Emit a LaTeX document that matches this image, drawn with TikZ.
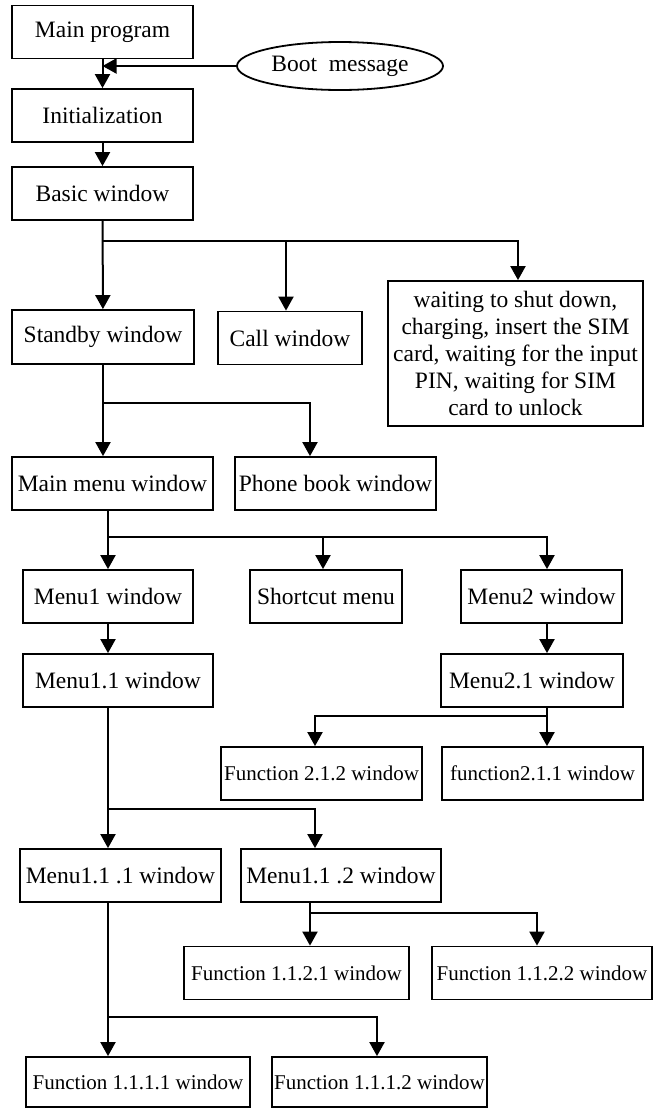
\documentclass[tikz,border=0pt]{standalone}
\usepackage{fontspec}
\setmainfont{Liberation Serif}
\usepackage{tikz}
\usetikzlibrary{calc,arrows.meta,shapes.geometric}

\begin{document}
\begin{tikzpicture}[x=0.5pt,y=-0.5pt,
		box/.style={draw,line width=0.9pt,inner sep=0pt,minimum height=26.5pt,font=\fontsize{11.75}{13.5}\selectfont},
		fbox/.style={box,font=\fontsize{10.5}{12}\selectfont},
		arr/.style={line width=1pt,-{Triangle[width=7.5pt,length=7pt]}},
		bus/.style={line width=1pt}]
			\useasboundingbox (0,0) rectangle (655,1109);
			\node[box,minimum width=90.5pt] (main) at (102.5,32) {Main program};
			\node[draw,ellipse,line width=0.9pt,inner sep=0pt,minimum width=103pt,minimum height=24pt,font=\fontsize{11.75}{13.5}\selectfont] (boot) at (340,66) {Boot~~message};
			\node[box,minimum width=90.5pt] (init) at (102.5,115.5) {Initialization};
			\node[box,minimum width=90.5pt] (basic) at (102.5,193.5) {Basic window};
			\node[box,minimum width=91pt,minimum height=27pt] (standby) at (103,337) {Standby window};
			\node[box,minimum width=72pt] (call) at (290,338) {Call window};
			\node[box,minimum width=127.5pt,minimum height=72.5pt,align=center] (wait) at (515.5,353.5) {waiting to shut down,\\charging, insert the SIM\\card, waiting for the input\\PIN, waiting for SIM\\card to unlock};
			\node[box,minimum width=100.5pt] (mainmenu) at (112.5,483.5) {Main menu window};
			\node[box,minimum width=100.5pt] (pbook) at (335.5,483.5) {Phone book window};
			\node[box,minimum width=85pt] (menu1) at (108,596.5) {Menu1 window};
			\node[box,minimum width=76pt] (shortcut) at (326,596.5) {Shortcut menu};
			\node[box,minimum width=80.5pt] (menu2) at (541.5,596.5) {Menu2 window};
			\node[box,minimum width=95pt] (menu11) at (118,680.5) {Menu1.1 window};
			\node[box,minimum width=91pt] (menu21) at (532,680.5) {Menu2.1 window};
			\node[fbox,minimum width=100.5pt] (f212) at (321.5,773.5) {Function 2.1.2 window};
			\node[fbox,minimum width=100.5pt] (f211) at (542.5,773.5) {function2.1.1 window};
			\node[box,minimum width=100.5pt] (menu111) at (120.5,875.5) {Menu1.1 .1 window};
			\node[box,minimum width=100pt] (menu112) at (341,875.5) {Menu1.1 .2 window};
			\node[fbox,minimum width=112.5pt] (f1121) at (296.5,973) {Function 1.1.2.1 window};
			\node[fbox,minimum width=110pt] (f1122) at (542,973) {Function 1.1.2.2 window};
			\node[fbox,minimum width=112pt,minimum height=25pt] (f1111) at (138,1082) {Function 1.1.1.1 window};
			\node[fbox,minimum width=107.5pt,minimum height=25pt] (f1112) at (379.5,1082) {Function 1.1.1.2 window};
			\coordinate (j1) at (103,241);
			\coordinate (j2) at (103,403);
			\coordinate (j3) at (108,537);
			\coordinate (j4) at (547,716);
			\coordinate (j5) at (108,809);
			\coordinate (j6) at (310,913);
			\coordinate (j7) at (108,1017);
			\draw[arr] (main) -- (init);
			\draw[arr] (boot.west) -- (boot.west -| main.south);
			\draw[arr] (init) -- (basic);
			\draw[arr] (basic) -- (standby);
			\draw[arr] (j1) -| ($(call.north)+(-4,0)$);
			\draw[arr] (j1) -| ($(wait.north)+(2.5,0)$);
			\draw[arr] (standby.south) -- ($(mainmenu.north)+(-9.5,0)$);
			\draw[arr] (j2) -| ($(pbook.north)+(-25.5,0)$);
			\draw[arr] ($(mainmenu.south)+(-4.5,0)$) -- (menu1.north);
			\draw[arr] (j3) -| ($(shortcut.north)+(-3,0)$);
			\draw[arr] (j3) -| ($(menu2.north)+(5.5,0)$);
			\draw[arr] (menu1.south) -- ($(menu11.north)+(-10,0)$);
			\draw[arr] ($(menu2.south)+(5.5,0)$) -- ($(menu21.north)+(15,0)$);
			\draw[arr] ($(menu21.south)+(15,0)$) -- ($(f211.north)+(4.5,0)$);
			\draw[arr] (j4) -| ($(f212.north)+(-6.5,0)$);
			\draw[arr] ($(menu11.south)+(-10,0)$) -- ($(menu111.north)+(-12.5,0)$);
			\draw[arr] (j5) -| ($(menu112.north)+(-26,0)$);
			\draw[arr] ($(menu112.south)+(-31,0)$) -- ($(f1121.north)+(13.5,0)$);
			\draw[arr] (j6) -| ($(f1122.north)+(-5,0)$);
			\draw[arr] ($(menu111.south)+(-12.5,0)$) -- ($(f1111.north)+(-30,0)$);
			\draw[arr] (j7) -| ($(f1112.north)+(-2.5,0)$);
		\end{tikzpicture}
\end{document}
